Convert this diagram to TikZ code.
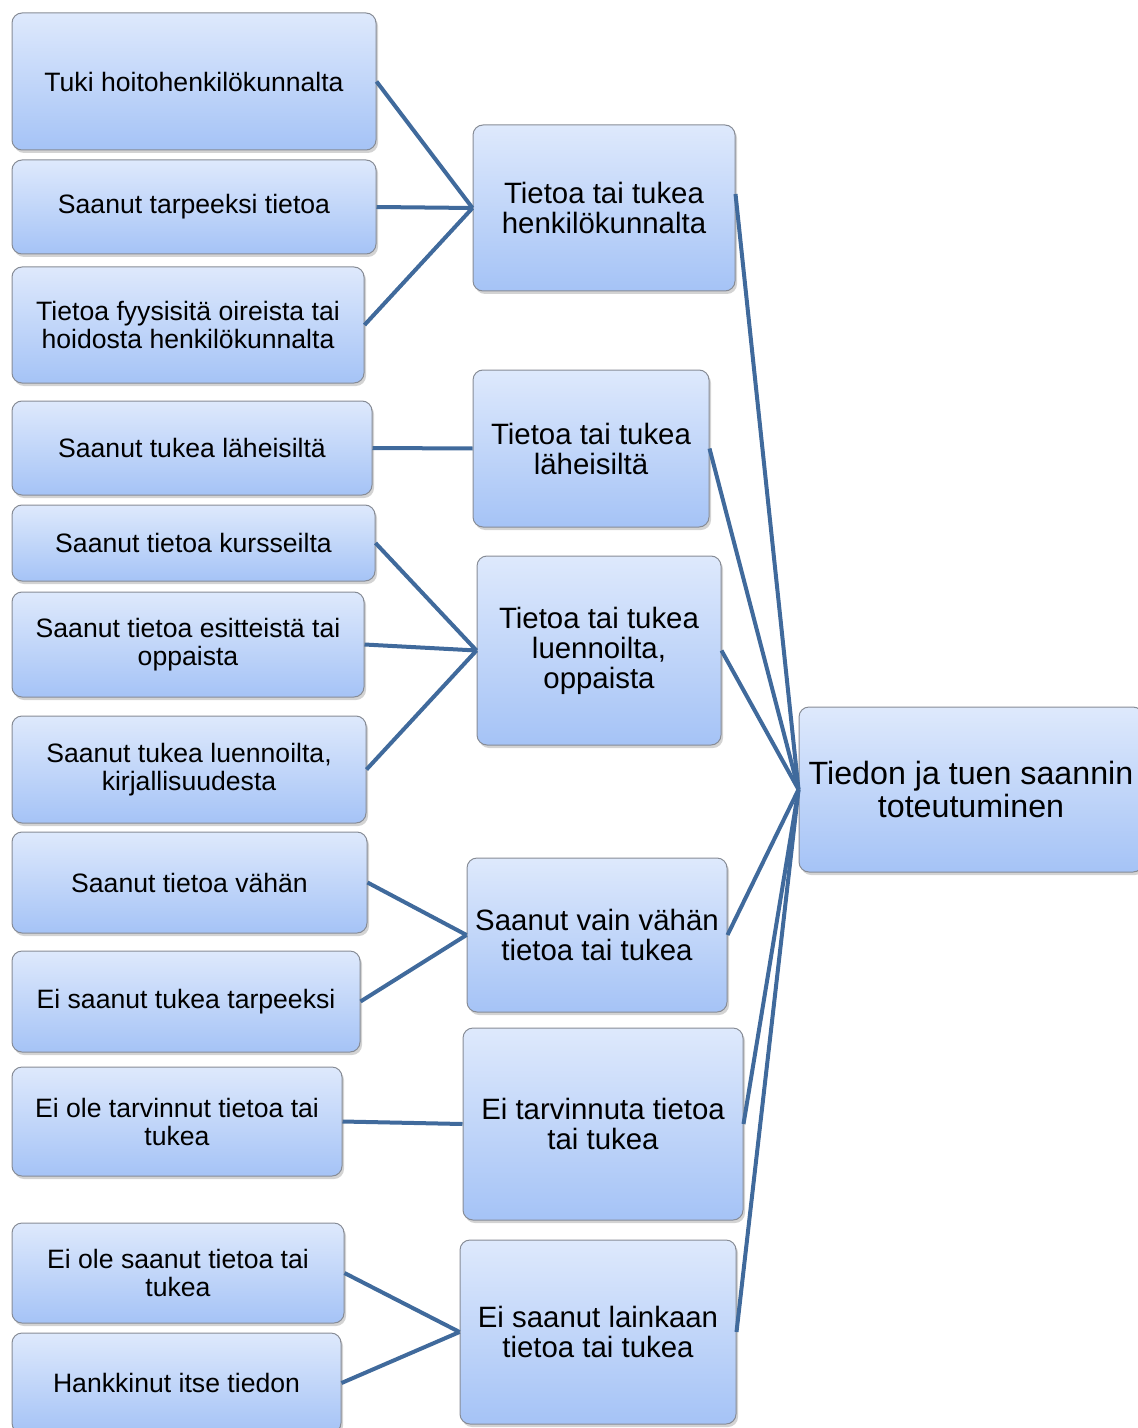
\documentclass[tikz,border=0pt]{standalone}
\usepackage{fontspec}
\setmainfont{Liberation Sans}
\usetikzlibrary{shadows}

\definecolor{boxtop}{RGB}{222,233,252}
\definecolor{boxbot}{RGB}{165,195,246}
\definecolor{boxline}{RGB}{135,140,150}
\definecolor{linkblue}{RGB}{64,106,156}

\begin{document}
\begin{tikzpicture}[
  x=0.5pt, y=-0.5pt,
  cbox/.style={draw=boxline, line width=0.5pt, rounded corners=5pt,
    top color=boxtop, bottom color=boxbot, align=center, inner sep=2pt,
    drop shadow={opacity=0.35, shadow xshift=1pt, shadow yshift=-1.5pt}},
  leaf/.style={cbox, font=\fontsize{13.3}{14}\selectfont},
  mid/.style={cbox, font=\fontsize{14.7}{15}\selectfont},
  top/.style={cbox, font=\fontsize{16.1}{16.5}\selectfont},
  link/.style={draw=linkblue, line width=2pt}
]
\useasboundingbox (0,0) rectangle (1138,1428);

% left column
\node [leaf, minimum width=182pt, minimum height=68.5pt] (l1) at (194,81.5) {Tuki hoitohenkilökunnalta};
\node [leaf, minimum width=182pt, minimum height=47pt] (l2) at (194,207) {Saanut tarpeeksi tietoa};
\node [leaf, minimum width=176pt, minimum height=58pt] (l3) at (188,325) {Tietoa fyysisitä oireista tai\\hoidosta henkilökunnalta};
\node [leaf, minimum width=180pt, minimum height=47pt] (l4) at (192,448) {Saanut tukea läheisiltä};
\node [leaf, minimum width=181.5pt, minimum height=38pt] (l5) at (193.5,543) {Saanut tietoa kursseilta};
\node [leaf, minimum width=176pt, minimum height=52.5pt] (l6) at (188,644.5) {Saanut tietoa esitteistä tai\\oppaista};
\node [leaf, minimum width=177pt, minimum height=53.5pt] (l7) at (189,769.5) {Saanut tukea luennoilta,\\kirjallisuudesta};
\node [leaf, minimum width=177.5pt, minimum height=50.5pt] (l8) at (189.5,882.5) {Saanut tietoa vähän};
\node [leaf, minimum width=174pt, minimum height=50.5pt] (l9) at (186,1001.5) {Ei saanut tukea tarpeeksi};
\node [leaf, minimum width=165pt, minimum height=54.5pt] (l10) at (177,1121.5) {Ei ole tarvinnut tietoa tai\\tukea};
\node [leaf, minimum width=166pt, minimum height=50pt] (l11) at (178,1273) {Ei ole saanut tietoa tai\\tukea};
\node [leaf, minimum width=164.5pt, minimum height=50pt] (l12) at (176.5,1383) {Hankkinut itse tiedon};

% middle column
\node [mid, minimum width=131pt, minimum height=83pt] (m1) at (604,208) {Tietoa tai tukea\\henkilökunnalta};
\node [mid, minimum width=118pt, minimum height=78.5pt] (m2) at (591,448.5) {Tietoa tai tukea\\läheisiltä};
\node [mid, minimum width=122pt, minimum height=94.5pt] (m3) at (599,650.5) {Tietoa tai tukea\\luennoilta,\\oppaista};
\node [mid, minimum width=130pt, minimum height=77pt] (m4) at (597,935) {Saanut vain vähän\\tietoa tai tukea};
\node [mid, minimum width=140pt, minimum height=96pt] (m5) at (603,1124) {Ei tarvinnuta tietoa\\tai tukea};
\node [mid, minimum width=138pt, minimum height=92pt] (m6) at (598,1332) {Ei saanut lainkaan\\tietoa tai tukea};

% right
\node [top, minimum width=172pt, minimum height=82.5pt] (root) at (971,789.5) {Tiedon ja tuen saannin\\toteutuminen};

\foreach \a/\b in {l1/m1, l2/m1, l3/m1, l4/m2, l5/m3, l6/m3, l7/m3,
                   l8/m4, l9/m4, l10/m5, l11/m6, l12/m6}
  \draw [link] (\a.east) -- (\b.west);

\draw [link] ([yshift=7pt]m1.east) -- (root.west);
\foreach \m in {m2,m3,m4,m5,m6}
  \draw [link] (\m.east) -- (root.west);
\end{tikzpicture}
\end{document}
